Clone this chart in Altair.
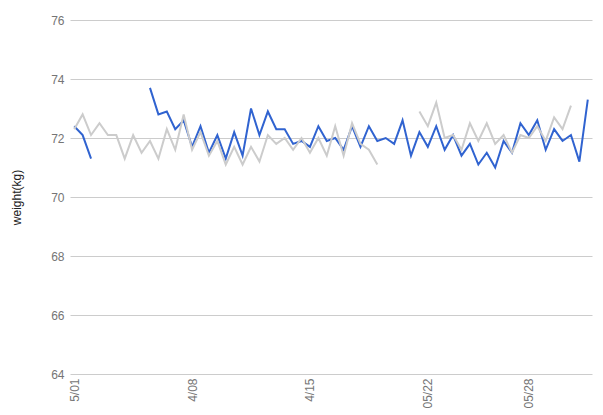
import altair as alt
import pandas as pd

# Blue series (None = gap)
blue = [72.4, 72.1, 71.3, None, None, None, None, None, None, 73.7,
        72.8, 72.9, 72.3, 72.6, 71.7, 72.4, 71.5, 72.1, 71.3, 72.2,
        71.4, 73.0, 72.1, 72.9, 72.3, 72.3, 71.8, 71.9, 71.7, 72.4,
        71.9, 72.0, 71.6, 72.4, 71.7, 72.4, 71.9, 72.0, 71.8, 72.6,
        71.4, 72.2, 71.7, 72.4, 71.6, 72.1, 71.4, 71.8, 71.1, 71.5,
        71.0, 71.9, 71.5, 72.5, 72.1, 72.6, 71.6, 72.3, 71.9, 72.1,
        71.2, 73.3]
# Gray series (None = gap)
gray = [72.3, 72.8, 72.1, 72.5, 72.1, 72.1, 71.3, 72.1, 71.5, 71.9,
        71.3, 72.3, 71.6, 72.8, 71.6, 72.2, 71.4, 71.9, 71.1, 71.7,
        71.1, 71.7, 71.2, 72.1, 71.8, 72.0, 71.6, 72.0, 71.5, 72.0,
        71.4, 72.4, 71.4, 72.5, 71.8, 71.6, 71.1, None, None, None,
        None, 72.9, 72.4, 73.2, 72.0, 72.1, 71.6, 72.5, 71.9, 72.5,
        71.8, 72.1, 71.5, 72.1, 72.0, 72.4, 71.9, 72.7, 72.3, 73.1,
        None, None]
tick_idx = [0, 14, 28, 42, 54]
tick_labels = ["5/01", "4/08", "4/15", "05/22", "05/28"]

rows = []
for name, vals in [("blue", blue), ("gray", gray)]:
    seg = 0
    prev = None
    for i, v in enumerate(vals):
        if v is None:
            if prev is not None:
                seg += 1
            prev = None
            continue
        rows.append({"series": name, "i": i, "v": v, "seg": f"{name}{seg}"})
        prev = v
df = pd.DataFrame(rows)

expr = "''"
for k, lab in zip(reversed(tick_idx), reversed(tick_labels)):
    expr = f"datum.value == {k} ? '{lab}' : ({expr})"

x = alt.X("i:Q", scale=alt.Scale(domain=[-0.5, 61.5], nice=False, zero=False),
          axis=alt.Axis(values=tick_idx, labelExpr=expr, labelAngle=-90,
                        labelAlign="right", labelBaseline="middle",
                        ticks=False, domain=False, grid=False, labelPadding=4,
                        labelColor="#757575", labelFont="Liberation Sans",
                        labelFontSize=12, title=None))
y = alt.Y("v:Q", scale=alt.Scale(domain=[64, 76], nice=False, zero=False),
          axis=alt.Axis(values=[64, 66, 68, 70, 72, 74, 76], ticks=False,
                        domain=False, gridColor="#cccccc", labelPadding=6,
                        labelColor="#757575", labelFont="Liberation Sans",
                        labelFontSize=12, title="weight(kg)",
                        titleFont="Liberation Sans", titleFontSize=12,
                        titleFontWeight="normal", titleColor="#222222",
                        titlePadding=27))

chart = alt.Chart(df).mark_line(strokeWidth=2, interpolate="linear").encode(
    x=x, y=y,
    color=alt.Color("series:N", scale=alt.Scale(domain=["blue", "gray"],
                                                range=["#3063d0", "#cccccc"]),
                    legend=None),
    detail="seg:N",
    order=alt.Order("i:Q"),
).properties(
    width=522, height=354,
    autosize=alt.AutoSizeParams(type="none"),
    padding={"left": 62, "top": 12, "right": 3, "bottom": 41},
).configure_view(stroke=None)

chart.save("out.html", embed_options={"renderer": "svg", "actions": False})
